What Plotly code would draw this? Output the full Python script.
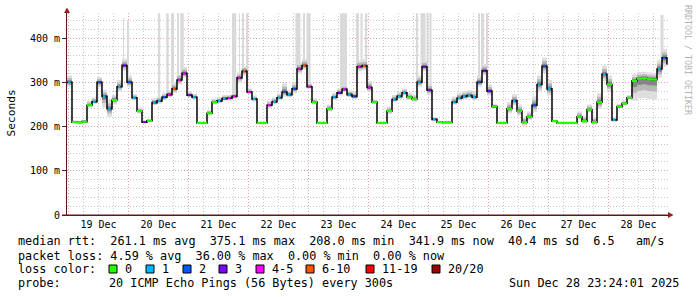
import plotly.graph_objects as go
import pandas as pd

# ---------------- data ----------------
start_time = "2025-12-18 23:24"
step_hours = 2

median_ms = [300, 210, 209, 211, 248, 256, 300, 268, 240, 260,
             290, 338, 300, 265, 235, 210, 213, 254, 258, 266,
             272, 285, 305, 320, 271, 266, 208, 208, 230, 255,
             258, 263, 264, 268, 310, 325, 278, 262, 208, 208,
             248, 256, 265, 278, 272, 285, 330, 338, 290, 255,
             208, 208, 240, 266, 276, 284, 272, 268, 335, 337,
             288, 255, 208, 208, 235, 261, 268, 276, 266, 262,
             300, 335, 282, 216, 210, 209, 209, 255, 264, 268,
             270, 266, 300, 326, 280, 245, 208, 208, 240, 258,
             235, 210, 222, 248, 295, 336, 285, 212, 208, 208,
             208, 208, 222, 212, 238, 210, 255, 318, 295, 215,
             245, 252, 265, 303, 308, 309, 307, 306, 330, 355,
             340]

loss_count = [1, 0, 0, 0, 0, 1, 2, 1, 1, 0,
              1, 3, 2, 1, 0, 3, 0, 1, 1, 2,
              4, 6, 4, 4, 3, 1, 0, 0, 0, 0,
              1, 1, 4, 4, 4, 6, 4, 1, 0, 0,
              4, 1, 1, 2, 1, 2, 4, 6, 4, 0,
              0, 0, 0, 1, 3, 4, 1, 2, 4, 6,
              4, 0, 0, 0, 0, 1, 1, 1, 0, 0,
              1, 3, 3, 1, 0, 0, 0, 1, 1, 1,
              1, 1, 2, 3, 3, 0, 0, 0, 0, 1,
              0, 0, 0, 2, 1, 2, 1, 0, 0, 0,
              0, 0, 0, 0, 0, 0, 0, 1, 0, 1,
              0, 0, 0, 0, 0, 0, 0, 0, 1, 2,
              0]

smoke_up_ms = [15, 4, 4, 4, 10, 10, 12, 15, 20, 12,
               15, 15, 15, 8, 8, 4, 4, 10, 10, 10,
               10, 15, 15, 15, 8, 8, 3, 3, 8, 8,
               8, 8, 8, 8, 12, 12, 8, 8, 3, 3,
               10, 10, 10, 20, 10, 15, 15, 15, 8, 8,
               3, 3, 10, 10, 10, 10, 10, 10, 15, 15,
               15, 6, 3, 3, 10, 10, 10, 10, 10, 10,
               15, 15, 15, 5, 3, 3, 3, 12, 12, 12,
               12, 12, 15, 15, 15, 6, 3, 3, 15, 15,
               15, 12, 12, 20, 20, 20, 20, 3, 3, 3,
               3, 3, 12, 12, 12, 12, 20, 20, 20, 6,
               6, 6, 6, 15, 15, 15, 15, 15, 20, 20,
               15]

smoke_down_ms = [10, 1, 1, 1, 5, 5, 12, 25, 18, 10,
                 10, 12, 10, 6, 6, 1, 1, 6, 6, 6,
                 6, 10, 10, 10, 5, 5, 1, 1, 5, 5,
                 5, 5, 5, 5, 10, 10, 5, 5, 1, 1,
                 6, 6, 6, 10, 6, 10, 10, 10, 5, 5,
                 1, 1, 6, 6, 6, 6, 6, 6, 10, 10,
                 10, 4, 1, 1, 6, 6, 6, 6, 6, 6,
                 10, 10, 10, 3, 1, 1, 1, 6, 6, 6,
                 6, 6, 10, 10, 10, 4, 1, 1, 10, 10,
                 10, 8, 8, 15, 15, 15, 15, 1, 1, 1,
                 1, 1, 6, 6, 6, 6, 15, 15, 15, 4,
                 3, 3, 3, 45, 45, 45, 45, 45, 20, 20,
                 20]

# tall grey "smoke" spikes (hours after start, width in hours, top in ms)
spike_offset_h = [22.6, 24.4, 37.0, 40.2, 42.2, 44.4, 46.0, 66.4, 67.4, 69.0,
                  70.4, 72.2, 92.4, 94.8, 96.6, 110.6, 116.2, 117.8, 119.8, 140.0,
                  142.4, 144.2, 145.4, 164.8, 166.2, 168.0, 238.0]
spike_width_h = [0.4, 0.6, 0.6, 1.0, 1.2, 0.6, 1.4, 0.4, 0.6, 0.4,
                 0.4, 0.6, 2.0, 0.8, 1.6, 2.8, 1.2, 0.8, 0.6, 0.4,
                 2.0, 0.8, 0.8, 0.6, 1.2, 0.6, 1.2]
spike_top_ms = [445, 440, 456, 456, 456, 456, 456, 456, 456, 456,
                456, 456, 456, 456, 456, 456, 456, 456, 456, 456,
                456, 456, 456, 456, 456, 456, 452]

loss_labels = ["0", "1", "2", "3", "4-5", "6-10", "11-19", "20/20"]
loss_colors = ["#26ff00", "#00b8ff", "#0059ff", "#7e00ff", "#ff00ff", "#ff5500", "#ff0000", "#a10000"]

y_tick_vals = [0, 100, 200, 300, 400]
y_tick_text = ["0", "100 m", "200 m", "300 m", "400 m"]

stats_line1 = "median rtt:  261.1 ms avg  375.1 ms max  208.0 ms min  341.9 ms now  40.4 ms sd  6.5   am/s"
stats_line2 = "packet loss: 4.59 % avg  36.00 % max  0.00 % min  0.00 % now"
probe_label = "probe:"
probe_text = "20 ICMP Echo Pings (56 Bytes) every 300s"
stamp_text = "Sun Dec 28 23:24:01 2025"
watermark = "RRDTOOL / TOBI OETIKER"

# ---------------- derived ----------------
t0 = pd.Timestamp(start_time)
times = [t0 + pd.Timedelta(hours=step_hours * i) for i in range(len(median_ms))]
t_end = t0 + pd.Timedelta(minutes=24 * 601)


def bucket(n):
    if n <= 3:
        return n
    if n <= 5:
        return 4
    if n <= 10:
        return 5
    if n <= 19:
        return 6
    return 7


fig = go.Figure()

# spikes
sp_x, sp_base, sp_h, sp_w = [], [], [], []
for h, w, top in zip(spike_offset_h, spike_width_h, spike_top_ms):
    idx = min(int(h // step_hours), len(median_ms) - 1)
    base = median_ms[idx]
    sp_x.append(t0 + pd.Timedelta(hours=h))
    sp_base.append(base)
    sp_h.append(top - base)
    sp_w.append(w * 3600 * 1000)
fig.add_trace(go.Bar(x=sp_x, y=sp_h, base=sp_base, width=sp_w,
                     marker=dict(color="#d9d9d9", line=dict(width=0)),
                     hoverinfo="skip"))

# smoke bands
for frac, col in [(1.0, "#dedede"), (0.6, "#b8b8b8"), (0.3, "#858585")]:
    lo = [m - d * frac for m, d in zip(median_ms, smoke_down_ms)]
    hi = [m + u * frac for m, u in zip(median_ms, smoke_up_ms)]
    fig.add_trace(go.Scatter(x=times, y=lo, mode="lines", line=dict(width=0, shape="hv"),
                             hoverinfo="skip"))
    fig.add_trace(go.Scatter(x=times, y=hi, mode="lines", line=dict(width=0, shape="hv"),
                             fill="tonexty", fillcolor=col, hoverinfo="skip"))

# median line
fig.add_trace(go.Scatter(x=times, y=median_ms, mode="lines",
                         line=dict(color="#111111", width=1.6, shape="hv"), hoverinfo="skip"))

# loss-coloured median pieces (full step for no loss, shorter dash otherwise)
step = pd.Timedelta(hours=step_hours)
for b, col in enumerate(loss_colors):
    xs, ys = [], []
    for i, n in enumerate(loss_count):
        if bucket(n) == b and i + 1 < len(times):
            if b == 0:
                a, e = times[i], times[i + 1]
            else:
                a, e = times[i] + step * 0.2, times[i] + step * 0.7
            xs += [a, e, None]
            ys += [median_ms[i], median_ms[i], None]
    if xs:
        fig.add_trace(go.Scatter(x=xs, y=ys, mode="lines", line=dict(color=col, width=2.2),
                                 connectgaps=False, hoverinfo="skip"))

# ---------------- layout ----------------
L, R, T, B = 67, 29, 13, 82
W, H = 697, 297
PW, PH = W - L - R, H - T - B


def px(x):
    return (x - L) / PW


def py(y):
    return (T + PH - y) / PH


axis_col = "#5a1a1a"
mono = "DejaVu Sans Mono"
grid_major = "#dba3a3"
grid_minor = "#c8c8c8"

fig.update_layout(
    width=W, height=H, autosize=False,
    margin=dict(l=L, r=R, t=T, b=B, pad=0),
    paper_bgcolor="white", plot_bgcolor="white",
    showlegend=False, barmode="overlay", hovermode=False,
    font=dict(family=mono, size=10, color="black"),
    xaxis=dict(type="date", range=[t0, t_end], tickformat="%d %b",
               tick0="2025-12-19", dtick=86400000, ticklabelmode="period",
               showgrid=True, gridcolor=grid_major, griddash="1px,2px", gridwidth=1,
               minor=dict(dtick=6 * 3600000, showgrid=True, gridcolor=grid_minor,
                          griddash="1px,2px", gridwidth=1),
               showline=True, linecolor=axis_col, linewidth=1, ticks="",
               zeroline=False, fixedrange=True,
               tickfont=dict(family=mono, size=10, color="black")),
    yaxis=dict(range=[0, 456.5], tickvals=y_tick_vals, ticktext=y_tick_text,
               ticks="outside", ticklen=4, tickcolor=axis_col,
               showgrid=True, gridcolor=grid_major, griddash="1px,2px", gridwidth=1,
               minor=dict(dtick=20, showgrid=True, gridcolor=grid_minor,
                          griddash="1px,2px", gridwidth=1),
               showline=True, linecolor=axis_col, linewidth=1,
               zeroline=False, fixedrange=True,
               tickfont=dict(family=mono, size=10, color="black")),
)

nb = lambda s: s.replace(" ", "\u00a0")
ann = []


def text(x, y, s, size=11.8, anchor="left", color="black", angle=0):
    ann.append(dict(x=px(x), y=py(y), xref="paper", yref="paper", text=nb(s),
                    showarrow=False, xanchor=anchor, yanchor="middle", textangle=angle,
                    font=dict(family=mono, size=size, color=color)))


line_y = [241.5, 255.5, 269, 283]
text(16, line_y[0], stats_line1)
text(16, line_y[1], stats_line2)
text(16, line_y[2], "loss color:")
label_x = [123, 160, 197, 233, 270, 320, 380, 446]
shapes = []
for lab, col, x in zip(loss_labels, loss_colors, label_x):
    text(x, line_y[2], lab)
    shapes.append(dict(type="rect", xref="paper", yref="paper",
                       x0=px(x - 14), x1=px(x - 6), y0=py(273), y1=py(265),
                       fillcolor=col, line=dict(color="black", width=1)))
text(16, line_y[3], probe_label)
text(107, line_y[3], probe_text)
text(681, line_y[3], stamp_text, anchor="right")
# y title and watermark
ann.append(dict(x=px(11), y=py(113.5), xref="paper", yref="paper", text="Seconds",
                showarrow=False, textangle=-90, xanchor="center", yanchor="middle",
                font=dict(family=mono, size=11.2, color="black")))
ann.append(dict(x=px(688), y=py(60), xref="paper", yref="paper", text=nb(watermark),
                showarrow=False, textangle=90, xanchor="center", yanchor="middle",
                font=dict(family=mono, size=8.3, color="#b4b4b4")))

# axis arrows
arrow_col = "#9a1c1c"
shapes.append(dict(type="path", xref="paper", yref="paper",
                   path=f"M {px(64)} {py(13)} L {px(70)} {py(13)} L {px(67)} {py(7.5)} Z",
                   fillcolor=arrow_col, line=dict(width=0)))
shapes.append(dict(type="path", xref="paper", yref="paper",
                   path=f"M {px(668)} {py(212)} L {px(668)} {py(218)} L {px(673.5)} {py(215)} Z",
                   fillcolor=arrow_col, line=dict(width=0)))
shapes.append(dict(type="line", xref="paper", yref="paper",
                   x0=px(62), x1=px(668), y0=py(215), y1=py(215),
                   line=dict(color=axis_col, width=1)))

fig.update_layout(annotations=ann, shapes=shapes)
fig.write_html("out.html")
